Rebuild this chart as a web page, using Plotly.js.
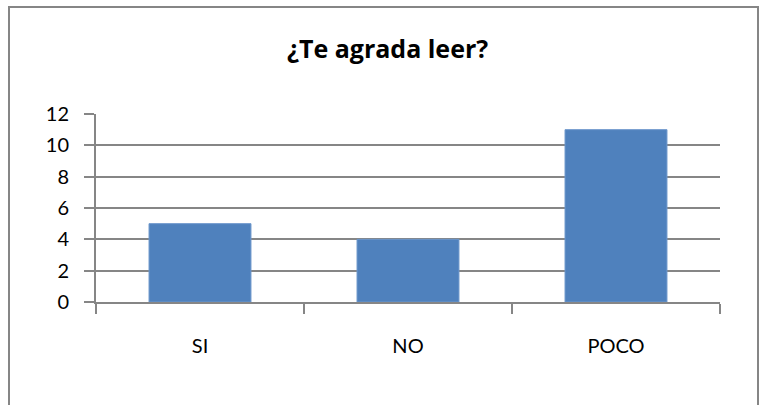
<!DOCTYPE html>
<html>
<head>
<meta charset="utf-8">
<script src="https://cdn.plot.ly/plotly-3.0.1.min.js"></script>
<style>
  html, body { margin: 0; padding: 0; background: #fff; }
  #wrap { position: relative; width: 763px; height: 405px; overflow: hidden; }
  #frame { position: absolute; left: 8px; top: 6px; width: 751px; height: 430px; border: 2px solid #868686; box-sizing: border-box; pointer-events: none; z-index: 5; }
  #chart { position: absolute; left: 0; top: 0; width: 763px; height: 405px; }
</style>
</head>
<body>
<div id="wrap">
  <div id="chart"></div>
  <div id="frame"></div>
</div>
<script>
const categories = ["SI", "NO", "POCO"];
const values = [5, 4, 11];
const yTicks = [0, 2, 4, 6, 8, 10, 12];
const chartTitle = "¿Te agrada leer?";

const trace = {
  type: "bar",
  x: categories,
  y: values,
  marker: { color: "#4F81BD", line: { color: "#6C96CB", width: 1 } },
  hoverinfo: "none"
};

const layout = {
  width: 763,
  height: 405,
  margin: { l: 96, r: 43, t: 114, b: 103 },
  paper_bgcolor: "#ffffff",
  plot_bgcolor: "#ffffff",
  showlegend: false,
  bargap: 0.51,
  title: {
    text: "<b>" + chartTitle + "</b>",
    font: { family: "'Open Sans', Lato, sans-serif", size: 25, color: "#000" },
    x: 0.508,
    xanchor: "center",
    y: 0.878,
    yanchor: "middle"
  },
  xaxis: {
    type: "category",
    tickson: "boundaries",
    ticks: "outside",
    ticklen: 10,
    tickwidth: 2,
    tickcolor: "#868686",
    showline: true,
    linecolor: "#868686",
    linewidth: 2,
    showgrid: false,
    zeroline: false,
    ticklabelstandoff: 25,
    tickfont: { family: "Lato, 'Open Sans', sans-serif", size: 20, color: "#000" }
  },
  yaxis: {
    range: [0, 12],
    tickvals: yTicks,
    ticktext: yTicks.map(String),
    ticks: "outside",
    ticklen: 10,
    tickwidth: 2,
    tickcolor: "#868686",
    showline: true,
    linecolor: "#868686",
    linewidth: 2,
    showgrid: true,
    gridcolor: "#868686",
    gridwidth: 2,
    zeroline: false,
    ticklabelstandoff: 11,
    tickfont: { family: "Lato, 'Open Sans', sans-serif", size: 20, color: "#000" }
  }
};

Plotly.newPlot("chart", [trace], layout, { staticPlot: true, displayModeBar: false });
</script>
</body>
</html>
